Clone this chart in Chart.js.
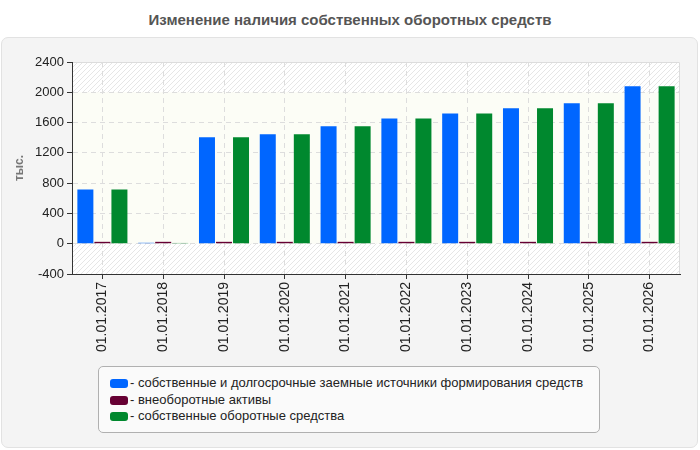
<!DOCTYPE html>
<html>
<head>
<meta charset="utf-8">
<script src="https://cdn.jsdelivr.net/npm/chart.js"></script>
<style>
    * { margin: 0; padding: 0; box-sizing: border-box; }
    body { width: 700px; height: 450px; background: #fff; position: relative; overflow: hidden;
           font-family: "Liberation Sans", Arial, sans-serif; }
    .title { position: absolute; left: 0; top: 11px; width: 700px; text-align: center;
             font-weight: bold; font-size: 15px; color: #555; }
    .box { position: absolute; left: 1px; top: 37px; width: 697px; height: 411px;
           background: #f4f4f4; border: 1px solid #e2e2e2; border-radius: 7px; }
    #c { position: absolute; left: 0; top: 0; }
    .legend { position: absolute; left: 98px; top: 366px; width: 502px; height: 67px;
              background: #fafafa; border: 1px solid #b0b0b0; border-radius: 5px; padding: 8px 0 0 11px; }
    .legend div { font-size: 13px; color: #222; height: 16.5px; line-height: 16px; white-space: nowrap; }
    .legend span { display: inline-block; width: 18px; height: 9px; border-radius: 3px;
                   vertical-align: -1px; margin-right: 2px; }
</style>
</head>
<body>
<div class="title">Изменение наличия собственных оборотных средств</div>
<div class="box"></div>
<canvas id="c" width="700" height="450"></canvas>
<div class="legend" id="legend"></div>
<script>
    const labels = ['01.01.2017', '01.01.2018', '01.01.2019', '01.01.2020', '01.01.2021',
                    '01.01.2022', '01.01.2023', '01.01.2024', '01.01.2025', '01.01.2026'];
    const sources = [715, 12, 1405, 1445, 1550, 1655, 1720, 1790, 1855, 2080];
    const fixedAssets = [25, 25, 25, 25, 25, 25, 25, 25, 25, 25];
    const ownWorking = [715, 10, 1405, 1445, 1550, 1655, 1720, 1790, 1855, 2080];
    const seriesNames = ['собственные и долгосрочные заемные источники формирования средств',
                         'внеоборотные активы',
                         'собственные оборотные средства'];
    const colors = ['#0066ff', '#660033', '#00882e'];

    // hatch pattern for the plot background
    const pc = document.createElement('canvas');
    pc.width = 5; pc.height = 5;
    const px = pc.getContext('2d');
    px.fillStyle = '#ffffff';
    px.fillRect(0, 0, 5, 5);
    px.strokeStyle = '#e6e6e6';
    px.lineWidth = 1;
    px.beginPath();
    px.moveTo(0, 5); px.lineTo(5, 0);
    px.moveTo(-2.5, 2.5); px.lineTo(2.5, -2.5);
    px.moveTo(2.5, 7.5); px.lineTo(7.5, 2.5);
    px.stroke();

    const plotBg = {
        id: 'plotBg',
        beforeDraw(chart) {
            const { ctx, chartArea: a, scales: { y } } = chart;
            ctx.save();
            ctx.fillStyle = ctx.createPattern(pc, 'repeat');
            ctx.fillRect(a.left, a.top, a.right - a.left, a.bottom - a.top);
            const yTop = y.getPixelForValue(2000), yBot = y.getPixelForValue(0);
            ctx.fillStyle = '#fcfdf6';
            ctx.fillRect(a.left, yTop, a.right - a.left, yBot - yTop);
            ctx.strokeStyle = '#dcdcdc';
            ctx.lineWidth = 1;
            ctx.beginPath();
            ctx.moveTo(a.left, a.top + 0.5);
            ctx.lineTo(a.right - 0.5, a.top + 0.5);
            ctx.lineTo(a.right - 0.5, a.bottom);
            ctx.stroke();
            ctx.restore();
        }
    };

    const datasets = [sources, fixedAssets, ownWorking].map((d, i) => ({
        label: seriesNames[i],
        data: d,
        backgroundColor: colors[i],
        borderWidth: 0,
        categoryPercentage: 0.84,
        barPercentage: 0.94
    }));

    new Chart(document.getElementById('c'), {
        type: 'bar',
        data: { labels: labels, datasets: datasets },
        plugins: [plotBg],
        options: {
            responsive: false,
            animation: false,
            layout: { padding: { left: 0, right: 20, top: 62, bottom: 86 } },
            plugins: { legend: { display: false }, tooltip: { enabled: false } },
            scales: {
                x: {
                    afterFit(s) { s.height = 90; },
                    grid: { offset: false, color: '#dddddd', tickColor: '#333', tickLength: 5 },
                    border: { color: '#333', dash: [5, 4] },
                    ticks: { minRotation: 90, maxRotation: 90, color: '#222', padding: 3,
                             font: { family: 'Liberation Sans', size: 14 } }
                },
                y: {
                    min: -400, max: 2400,
                    afterFit(s) { s.width = 72; },
                    grid: { color: (c) => (c.tick.value === 2400 || c.tick.value === -400) ? 'rgba(0,0,0,0)' : '#dddddd',
                            tickColor: '#333', tickLength: 5 },
                    border: { color: '#333', dash: [5, 4] },
                    ticks: { stepSize: 400, color: '#222', padding: 3,
                             callback: (v) => String(v),
                             font: { family: 'Liberation Sans', size: 13 } },
                    title: { display: true, text: 'тыс.', color: '#777', padding: { top: 12, bottom: 0 },
                             font: { family: 'Liberation Sans', size: 12, weight: 'bold' } }
                }
            }
        }
    });

    const lg = document.getElementById('legend');
    seriesNames.forEach((n, i) => {
        const row = document.createElement('div');
        row.innerHTML = '<span style="background:' + colors[i] + '"></span>- ' + n;
        lg.appendChild(row);
    });
</script>
</body>
</html>
